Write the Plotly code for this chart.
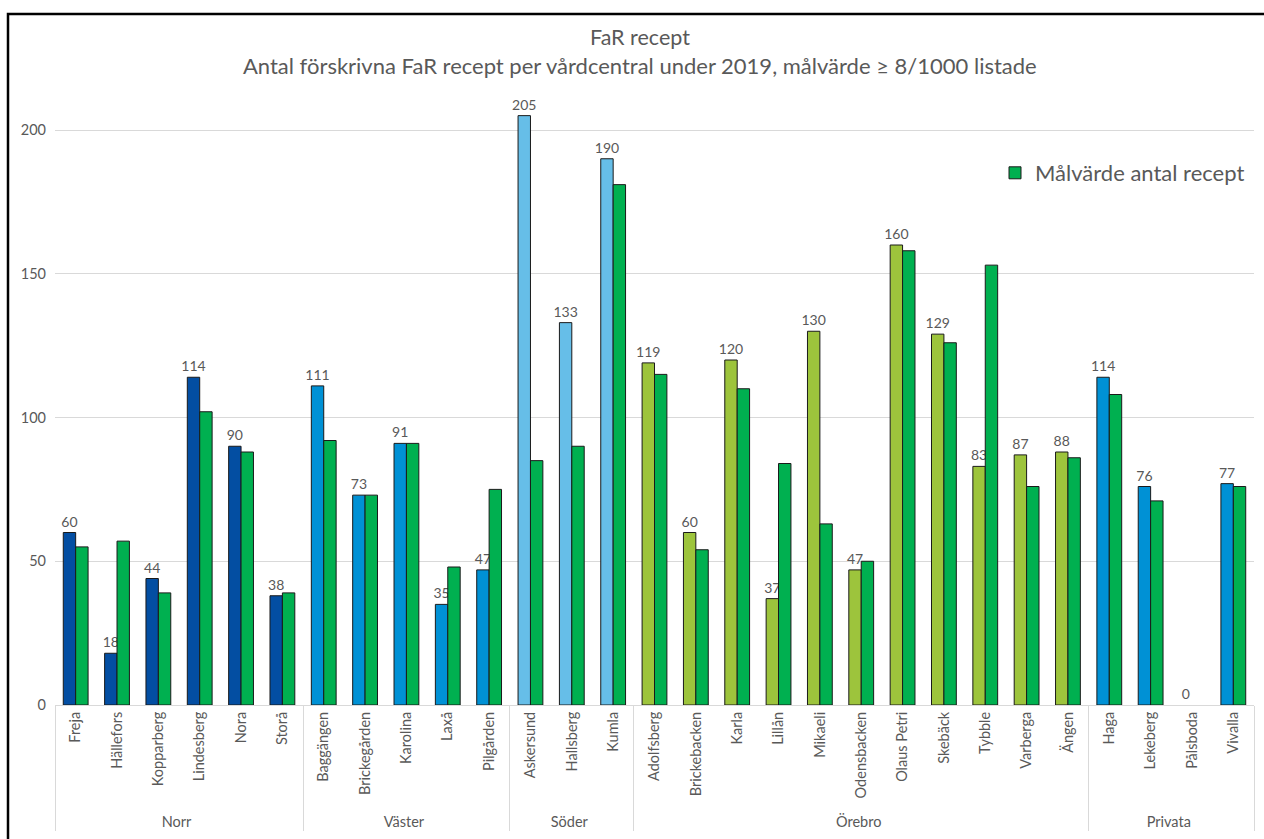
import plotly.graph_objects as go

groups = ["Norr"] * 6 + ["Väster"] * 5 + ["Söder"] * 3 + ["Örebro"] * 11 + ["Privata"] * 4
names = ["Freja", "Hällefors", "Kopparberg", "Lindesberg", "Nora", "Storå",
         "Baggängen", "Brickegården", "Karolina", "Laxå", "Pilgården",
         "Askersund", "Hallsberg", "Kumla",
         "Adolfsberg", "Brickebacken", "Karla", "Lillån", "Mikaeli", "Odensbacken",
         "Olaus Petri", "Skebäck", "Tybble", "Varberga", "Ängen",
         "Haga", "Lekeberg", "Pålsboda", "Vivalla"]
antal = [60, 18, 44, 114, 90, 38,
         111, 73, 91, 35, 47,
         205, 133, 190,
         119, 60, 120, 37, 130, 47, 160, 129, 83, 87, 88,
         114, 76, 0, 77]
malvarde = [55, 57, 39, 102, 88, 39,
            92, 73, 91, 48, 75,
            85, 90, 181,
            115, 54, 110, 84, 63, 50, 158, 126, 153, 76, 86,
            108, 71, 0, 76]
group_colors = {"Norr": "#034EA2", "Väster": "#0091D5", "Söder": "#66BEE8",
                "Örebro": "#9DC43C", "Privata": "#0091D5"}
title_lines = ["FaR recept",
               "Antal förskrivna FaR recept per vårdcentral under 2019, målvärde ≥ 8/1000 listade"]

FONT = "Lato, Open Sans, sans-serif"
GREY = "#595959"

fig = go.Figure()
fig.add_trace(go.Bar(
    x=[groups, names], y=antal, name="Antal recept",
    marker=dict(color=[group_colors[g] for g in groups],
                line=dict(color="#1a1a1a", width=[1 if v else 0 for v in antal])),
    text=[str(v) for v in antal], textposition="outside", cliponaxis=False,
    constraintext="none",
    textfont=dict(family=FONT, size=14, color=GREY), showlegend=False,
))
fig.add_trace(go.Bar(
    x=[groups, names], y=malvarde, name="Målvärde antal recept",
    marker=dict(color="#00B050", line=dict(color="#1a1a1a", width=[1 if v else 0 for v in malvarde])),
    showlegend=True,
))

L, R, T, B = 55, 1254, 85, 705
def px(x):
    return (x - L) / (R - L)
def py(y):
    return (B - y) / (B - T)

annotations = [
    dict(text=title_lines[0], xref="paper", yref="paper", x=px(640), y=py(37),
         xanchor="center", yanchor="middle", showarrow=False,
         font=dict(family=FONT, size=21.5, color=GREY)),
    dict(text=title_lines[1], xref="paper", yref="paper", x=px(640), y=py(66),
         xanchor="center", yanchor="middle", showarrow=False,
         font=dict(family=FONT, size=22, color=GREY)),
]

fig.update_layout(
    width=1264, height=839,
    margin=dict(l=L, r=1264 - R, t=T, b=839 - B),
    paper_bgcolor="white", plot_bgcolor="white",
    barmode="group", bargap=0.4, bargroupgap=0,
    font=dict(family=FONT, color=GREY),
    annotations=annotations,
    legend=dict(x=px(995), y=py(152), xanchor="left", yanchor="top",
                font=dict(family=FONT, size=22, color=GREY), bgcolor="rgba(0,0,0,0)"),
    xaxis=dict(type="multicategory", tickangle=-90, tickfont=dict(family=FONT, size=14.5, color=GREY),
               showline=True, linecolor="#d9d9d9", showdividers=True, dividercolor="#d9d9d9",
               dividerwidth=1, ticks=""),
    yaxis=dict(range=[0, (B - T) / ((705 - 130) / 200)], tickvals=[0, 50, 100, 150, 200],
               showgrid=True, gridcolor="#d9d9d9", gridwidth=1, zeroline=False,
               tickfont=dict(family=FONT, size=14.5, color=GREY), ticks="", ticklabelstandoff=8),
    shapes=[dict(type="rect", xref="paper", yref="paper",
                 x0=px(8), x1=px(1290), y0=py(870), y1=py(14),
                 line=dict(color="black", width=2.5), fillcolor="rgba(0,0,0,0)", layer="above")],
)

fig.write_html("out.html")
